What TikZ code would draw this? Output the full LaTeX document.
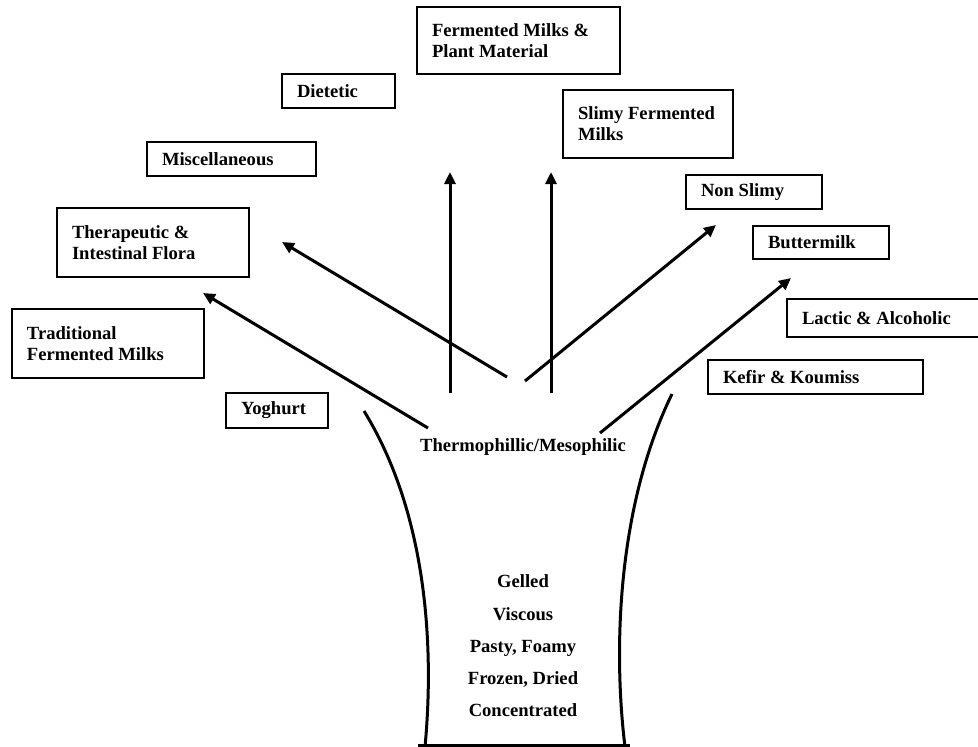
\documentclass[tikz,border=0pt]{standalone}
\usepackage{fontspec}
\setmainfont{Liberation Serif}
\usetikzlibrary{arrows.meta}
\newcommand{\bxfont}{\bfseries\fontsize{18.6}{21}\selectfont}
\tikzset{
  bx/.style={draw, line width=2.2pt, outer sep=0pt, inner xsep=15pt, inner ysep=0pt,
    anchor=north west, align=flush left, font=\bxfont},
  arr/.style={line width=3pt, -{Triangle[length=12pt,width=11pt]}},
  cup/.style={line width=3pt}
}
\newcommand{\bxnode}[6]{% name, x1, y1, x2, y2, text
  \pgfmathsetmacro{\bw}{#4-#2}\pgfmathsetmacro{\bh}{#5-#3}\pgfmathsetmacro{\tw}{#4-#2-30}
  \node[bx, minimum width=\bw pt, minimum height=\bh pt, text width=\tw pt] (#1) at (#2,#3) {#6};}
\begin{document}
\begin{tikzpicture}[x=1pt,y=-1pt]
\useasboundingbox (0,0) rectangle (978,747);
\clip (0,0) rectangle (978,747);
\fill[white] (0,0) rectangle (978,747);
% boxes
\bxnode{fmp}{417}{7}{620}{74}{Fermented Milks \&\\Plant Material}
\bxnode{diet}{282}{74}{395}{108}{Dietetic}
\bxnode{misc}{147}{142}{316}{176}{Miscellaneous}
\bxnode{slimy}{563}{90}{733}{158}{Slimy Fermented\\Milks}
\bxnode{nonslimy}{686}{175}{822}{209}{Non Slimy}
\bxnode{butter}{753}{226}{889}{259}{Buttermilk}
\bxnode{lactic}{787}{299}{1000}{337}{Lactic \& Alcoholic}
\bxnode{kefir}{708}{360}{923}{394}{Kefir \& Koumiss}
\bxnode{thera}{57}{208}{249}{277}{Therapeutic \&\\Intestinal Flora}
\bxnode{trad}{12}{309}{204}{378}{Traditional\\Fermented Milks}
\bxnode{yog}{226}{393}{328}{428}{Yoghurt}
% centre texts
\node[font=\bxfont] (thermo) at (523,447) {Thermophillic/Mesophilic};
\node[align=center, font=\bfseries\fontsize{18.6}{32.2}\selectfont] (props) at (523,646)
  {Gelled\\Viscous\\Pasty, Foamy\\Frozen, Dried\\Concentrated};
% arrow ends
\coordinate (v1s) at (450,393); \coordinate (v1e) at (450,172);
\coordinate (v2s) at (551,393); \coordinate (v2e) at (551,172);
\coordinate (ths) at (507,377); \coordinate (the) at (282,242);
\coordinate (ns) at (525,381); \coordinate (ne) at (716,225);
\coordinate (trs) at (428,428); \coordinate (tre) at (203,293);
\coordinate (bus) at (600,433); \coordinate (bue) at (791,278);
\draw[arr] (v1s) -- (v1e);
\draw[arr] (v2s) -- (v2e);
\draw[arr] (ths) -- (the);
\draw[arr] (ns) -- (ne);
\draw[arr] (trs) -- (tre);
\draw[arr] (bus) -- (bue);
% cup
\draw[cup] (364,411) .. controls (425,510) and (435,640) .. (425,747);
\draw[cup] (672,394) .. controls (620,500) and (612,640) .. (625,747);
\draw[cup] (418,745.5) -- (630,745.5);
\end{tikzpicture}
\end{document}
